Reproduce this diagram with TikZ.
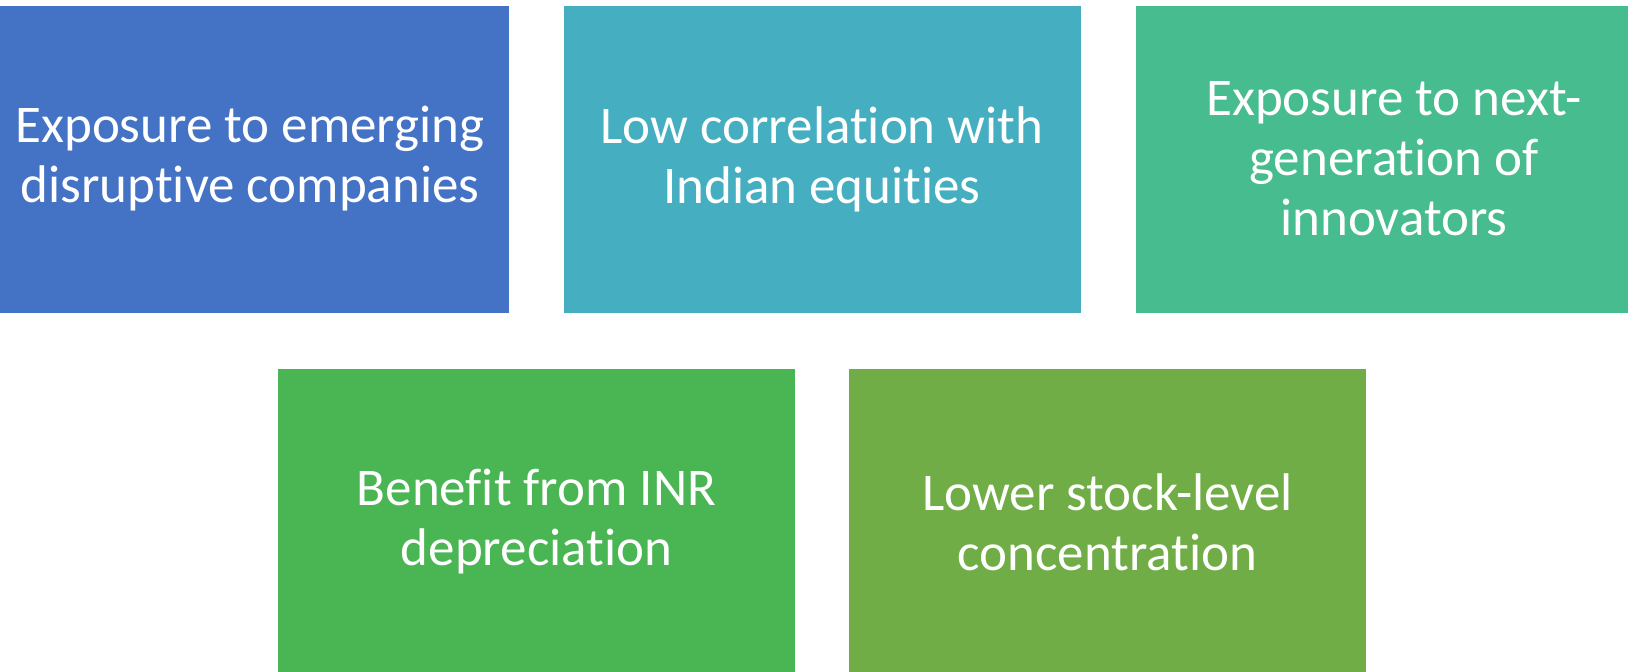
\documentclass[tikz,border=0pt]{standalone}
\usepackage{fontspec}
\setmainfont[RawFeature=-liga]{Carlito}

\definecolor{accblue}{HTML}{4472C4}
\definecolor{accteal}{HTML}{45AFC1}
\definecolor{accsea}{HTML}{46BC8F}
\definecolor{accgreen}{HTML}{4AB553}
\definecolor{accolive}{HTML}{70AD47}

\begin{document}
\begin{tikzpicture}[x=0.5pt, y=0.5pt,
  card/.style={rectangle, draw=white, line width=0.4pt, inner sep=0pt,
    minimum width=259pt, minimum height=154pt, align=center,
    text=white, font=\fontsize{26.5}{30}\selectfont}
]
  \useasboundingbox (0,0) rectangle (1628,672);
  \clip (0,0) rectangle (1628,672);

  % top row
  \coordinate (c1) at (250,513);
  \coordinate (c2) at (822,513);
  \coordinate (c3) at (1394,513);
  % bottom row
  \coordinate (c4) at (536.5,150);
  \coordinate (c5) at (1107.5,150);

  \node[card, fill=accblue]  (disrupt)  at (c1) {Exposure to emerging\\disruptive companies};
  \node[card, fill=accteal]  (correl)   at (c2) {Low correlation with\\Indian equities};
  \node[card, fill=accsea]   (innov)    at (c3) {Exposure to next-\\generation of\\innovators};
  \node[card, fill=accgreen] (inr)      at (c4) {Benefit from INR\\depreciation};
  \node[card, fill=accolive] (concent)  at (c5) {Lower stock-level\\concentration};
\end{tikzpicture}
\end{document}
